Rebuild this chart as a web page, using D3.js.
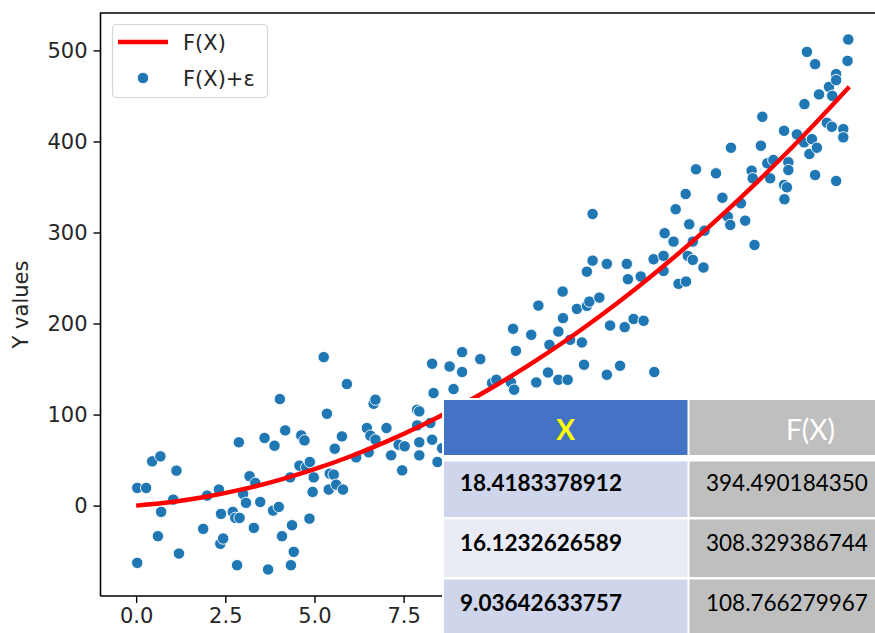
<!DOCTYPE html>
<html>
<head>
<meta charset="utf-8">
<script src="https://cdn.jsdelivr.net/npm/d3@7"></script>
<style>
  html, body { margin: 0; padding: 0; background: #fff; }
  svg { display: block; }
  text { font-family: "DejaVu Sans", sans-serif; }
  .tbl text { font-family: Lato, "Open Sans", sans-serif; }
</style>
</head>
<body>
<svg id="chart" width="875" height="633"></svg>
<script>
// Noisy samples F(X)+ε
const noiseX = [0.03,0.28,0.03,0.45,0.68,0.70,0.61,1.13,1.04,1.20,1.88,1.99,2.32,2.38,2.36,2.44,2.71,2.78,2.90,2.83,
  2.88,3.00,3.08,3.18,3.34,3.30,3.48,3.60,3.70,3.84,4.00,3.88,4.03,4.09,4.18,4.32,4.37,4.42,4.34,4.58,
  4.63,4.72,4.77,4.87,4.86,4.98,4.95,5.26,5.35,5.43,5.54,5.40,5.57,5.61,5.77,5.80,5.91,6.17,6.47,6.57,
  6.52,6.66,6.71,6.71,7.02,7.15,7.36,7.53,7.46,7.88,7.94,7.88,7.94,7.94,8.25,8.30,8.34,8.30,8.45,8.79,
  8.58,8.90,9.14,9.65,9.14,9.98,10.10,10.51,10.60,11.22,11.55,11.84,12.10,10.57,11.08,11.84,11.59,12.17,12.50,12.56,
  10.65,11.28,11.96,11.97,12.36,12.64,12.71,12.99,12.80,12.80,12.64,13.20,13.76,13.79,14.15,13.29,13.70,13.95,14.23,13.20,
  13.57,14.53,14.51,14.79,14.79,14.82,15.07,15.61,15.94,15.47,15.61,15.91,15.21,15.42,15.13,15.51,15.41,15.70,16.26,16.44,
  16.59,16.66,16.96,17.08,17.34,16.68,17.52,17.56,17.26,17.29,17.78,17.70,17.87,18.29,18.29,18.17,18.25,18.18,18.17,18.53,
  18.73,18.95,18.88,19.09,19.04,19.63,18.74,18.81,19.04,19.15,19.43,19.52,19.63,19.63,19.37,19.51,19.83,19.83,19.95,19.97];
const noiseY = [19.4,19.4,-62.9,48.6,54.1,-6.9,-33.6,38.4,6.6,-52.7,-25.6,11.0,17.6,-9.1,-42.0,-36.2,-6.9,-13.5,-13.5,-65.5,
  69.5,12.8,3.0,32.2,24.9,-24.5,4.0,74.3,-70.2,-5.5,-1.5,65.8,117.0,-33.6,82.6,31.0,-21.6,-50.8,-65.5,43.9,
  77.1,71.6,42.0,47.9,-14.3,31.0,15.0,163.1,100.9,35.1,34.0,17.6,62.5,23.0,76.0,17.6,133.5,53.0,85.2,76.8,
  58.5,111.9,116.3,72.4,85.2,55.2,66.9,65.1,38.7,105.3,103.5,88.1,69.5,55.2,90.7,155.8,123.6,72.4,47.9,152.8,
  63.0,128.0,168.6,160.9,146.7,134.6,138.2,135.3,127.3,135.3,146.2,138.2,138.2,194.2,187.6,191.2,176.6,182.1,179.2,154.7,
  170.0,219.7,235.1,205.9,216.1,219.4,224.1,228.5,320.3,269.1,257.0,265.5,265.5,248.7,251.6,197.8,196.0,205.0,203.0,143.7,
  153.6,146.7,270.6,274.3,257.8,299.2,290.0,290.0,302.0,274.3,269.9,261.5,243.6,246.1,325.5,309.0,342.3,369.4,365.0,338.2,
  317.4,308.3,332.1,313.0,286.3,393.1,395.3,427.1,367.9,359.5,359.5,376.0,379.6,377.1,368.6,352.2,349.6,336.5,411.7,407.8,
  399.0,402.6,386.2,393.1,363.1,356.6,441.0,498.4,484.9,451.7,460.0,450.1,474.0,467.4,420.5,416.1,413.6,404.5,488.5,512.0];

// F(X) sampled along the curve
const curveX = [0,1,2,3,4,5,6,7,8,9,10,11,12,13,14,15,16,17,18,19,20];
const curveY = [0,4,10,18,28,40,54,70,88,108,130,154,180,208,238,270,304,340,378,418,460];

// Table rows
const tableHeaders = ["X", "F(X)"];
const tableX = ["18.4183378912", "16.1232626589", "9.03642633757"];
const tableF = ["394.490184350", "308.329386744", "108.766279967"];

// ticks left uncovered by the table
const xTicks = [0, 2.5, 5, 7.5];
const yTicks = [0, 100, 200, 300, 400, 500];

const svg = d3.select("#chart");
const plot = { left: 100.5, right: 885, top: 13, bottom: 596 };

// matplotlib-style 5% padding around the data
function padded(ext) { const s = ext[1] - ext[0]; return [ext[0] - 0.05 * s, ext[1] + 0.05 * s]; }
const allX = noiseX.concat(curveX), allY = noiseY.concat(curveY);
const x = d3.scaleLinear().domain(padded(d3.extent(allX))).range([plot.left, plot.right]);
const y = d3.scaleLinear().domain(padded(d3.extent(allY))).range([plot.bottom, plot.top]);

const pts = noiseX.map((v, i) => ({ x: v, y: noiseY[i] }));
const curvePts = curveX.map((v, i) => ({ x: v, y: curveY[i] }))
  .concat(tableX.map((v, i) => ({ x: +v, y: +tableF[i] })))
  .sort((a, b) => a.x - b.x);

const g = svg.append("g");

// scatter
g.append("g").selectAll("circle").data(pts).join("circle")
  .attr("cx", d => x(d.x)).attr("cy", d => y(d.y)).attr("r", 5.7)
  .attr("fill", "#1f77b4").attr("stroke", "#fff").attr("stroke-width", 0.9);

// F(X) curve
g.append("path").datum(curvePts)
  .attr("d", d3.line().x(d => x(d.x)).y(d => y(d.y)).curve(d3.curveMonotoneX))
  .attr("fill", "none").attr("stroke", "#ff0000").attr("stroke-width", 4.4);

// axes
const yAxis = d3.axisLeft(y).tickValues(yTicks).tickFormat(d3.format("d")).tickSizeOuter(0).tickSize(7).tickPadding(6);
const xAxis = d3.axisBottom(x).tickValues(xTicks).tickFormat(d3.format(".1f")).tickSizeOuter(0).tickSize(7).tickPadding(5);
const ya = svg.append("g").attr("transform", `translate(${plot.left},0)`).call(yAxis);
const xa = svg.append("g").attr("transform", `translate(0,${plot.bottom})`).call(xAxis);
[ya, xa].forEach(a => {
  a.select(".domain").remove();
  a.selectAll(".tick line").attr("stroke", "#000").attr("stroke-width", 1.4);
  a.selectAll(".tick text").attr("font-size", 21).attr("fill", "#262626")
    .attr("font-family", "DejaVu Sans, sans-serif");
});

// spines
svg.append("path")
  .attr("d", `M${plot.left},${plot.bottom}V${plot.top}H${plot.right}M${plot.left},${plot.bottom}H${plot.right}`)
  .attr("fill", "none").attr("stroke", "#000").attr("stroke-width", 1.6);

// y label
svg.append("text").attr("transform", `translate(28,${(plot.top + plot.bottom) / 2}) rotate(-90)`)
  .attr("text-anchor", "middle").attr("font-size", 21).attr("fill", "#262626").text("Y values");

// legend
const lg = svg.append("g");
lg.append("rect").attr("x", 112.5).attr("y", 24.5).attr("width", 155).attr("height", 73).attr("rx", 4)
  .attr("fill", "#fff").attr("fill-opacity", 0.8).attr("stroke", "#d6d6d6").attr("stroke-width", 1.2);
lg.append("line").attr("x1", 118).attr("x2", 168).attr("y1", 42).attr("y2", 42)
  .attr("stroke", "#ff0000").attr("stroke-width", 4.4);
lg.append("circle").attr("cx", 143).attr("cy", 78).attr("r", 5.7)
  .attr("fill", "#1f77b4").attr("stroke", "#fff").attr("stroke-width", 0.9);
lg.append("text").attr("x", 183).attr("y", 49.5).attr("font-size", 21).attr("fill", "#262626").text("F(X)");
lg.append("text").attr("x", 183).attr("y", 85.5).attr("font-size", 21).attr("fill", "#262626").text("F(X)+ε");

// table overlay
const tb = svg.append("g").attr("class", "tbl");
const colL = [444, 689.5], colW = [243.5, 245];
const rowTop = [400, 461.5, 519.5, 579.5], rowH = [55, 55.5, 57.5, 60];
const col1Fill = ["#4472c4", "#cfd5ea", "#e9ebf5", "#cfd5ea"];
const col2Fill = ["#bfbfbf", "#bfbfbf", "#bfbfbf", "#bfbfbf"];
tb.append("rect").attr("x", 442).attr("y", 398).attr("width", 440).attr("height", 240).attr("fill", "#fff");
rowTop.forEach((t, r) => {
  tb.append("rect").attr("x", colL[0]).attr("y", t).attr("width", colW[0]).attr("height", rowH[r]).attr("fill", col1Fill[r]);
  tb.append("rect").attr("x", colL[1]).attr("y", t).attr("width", colW[1]).attr("height", rowH[r]).attr("fill", col2Fill[r]);
});
tb.append("text").attr("x", colL[0] + colW[0] / 2).attr("y", 440).attr("text-anchor", "middle")
  .attr("font-size", 28).attr("font-weight", 700).attr("fill", "#ffff00").text(tableHeaders[0]);
tb.append("text").attr("x", colL[1] + 121).attr("y", 440).attr("text-anchor", "middle")
  .attr("font-size", 28).attr("fill", "#ffffff").text(tableHeaders[1]);
const baselines = [491, 551, 611];
tableX.forEach((v, i) => {
  tb.append("text").attr("x", 460).attr("y", baselines[i]).attr("font-size", 22.5).attr("font-weight", 700)
    .attr("fill", "#000").text(v);
  tb.append("text").attr("x", 706).attr("y", baselines[i]).attr("font-size", 22.5)
    .attr("fill", "#000").text(tableF[i]);
});
</script>
</body>
</html>
